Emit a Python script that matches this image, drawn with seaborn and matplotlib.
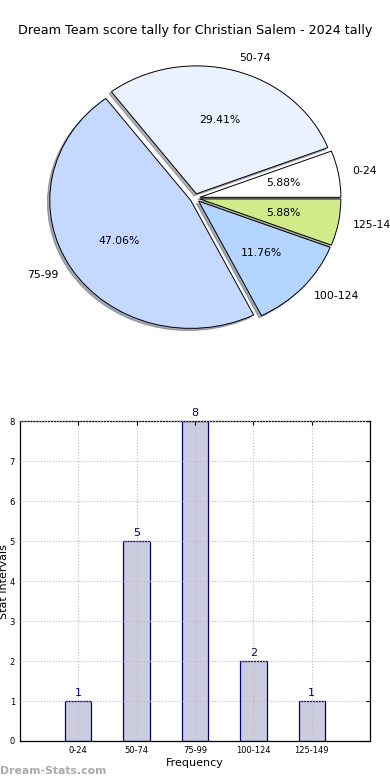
import matplotlib
matplotlib.use("Agg")
import matplotlib.pyplot as plt
import seaborn as sns
import pandas as pd

# score tally data
intervals = ["0-24", "50-74", "75-99", "100-124", "125-149"]
counts = [1, 5, 8, 2, 1]
pie_colors = ["#ffffff", "#eaf2ff", "#c5d8ff", "#b3d5ff", "#cfeb8a"]
title = "Dream Team score tally for Christian Salem - 2024 tally"

sns.set_style("white")
plt.rcParams["font.family"] = ["DejaVu Sans"]
plt.rcParams["text.color"] = "black"

fig = plt.figure(figsize=(3.9, 7.8), dpi=100)
fig.text(0.5, 0.961, title, ha="center", va="center", fontsize=9.2)

# pie on top
ax_pie = fig.add_axes([0.048, 0.541, 0.904, 0.41])
wedges, texts, autotexts = ax_pie.pie(
    counts,
    labels=intervals,
    colors=pie_colors,
    explode=[0.035] * len(counts),
    autopct="%.2f%%",
    pctdistance=0.6,
    labeldistance=1.1,
    shadow={"ox": -0.012, "oy": -0.012, "shade": 0.6},
    startangle=0,
    wedgeprops={"edgecolor": "black", "linewidth": 0.7},
    textprops={"fontsize": 7.8, "color": "black"},
)
for t in texts:
    x, _ = t.get_position()
    t.set_ha("left" if x > 0 else "right")
ax_pie.set_aspect("auto")
ax_pie.set_xlim(-1.25, 1.25)
ax_pie.set_ylim(-1.25, 1.25)

# bar chart below
ax_bar = fig.add_axes([0.051, 0.05, 0.898, 0.41])
df = pd.DataFrame({"interval": intervals, "count": counts})
sns.barplot(
    data=df,
    x="interval",
    y="count",
    color="#ccccdf",
    edgecolor="#000080",
    linewidth=0.9,
    width=0.45,
    saturation=1,
    ax=ax_bar,
)
ax_bar.set_xlim(-1, 5)
ax_bar.set_ylim(0, 8)
ax_bar.set_yticks(range(0, 9))
ax_bar.grid(True, linestyle=":", color="#bbbbbb", linewidth=0.8)
ax_bar.set_axisbelow(False)
for spine in ax_bar.spines.values():
    spine.set_color("black")
    spine.set_linewidth(0.9)
ax_bar.tick_params(direction="in", labelsize=6, length=3, top=True, right=True,
                   colors="black")
ax_bar.set_xlabel("Frequency", fontsize=8, labelpad=2, color="black")
ax_bar.set_ylabel("Stat Intervals", fontsize=8, color="black")
ax_bar.yaxis.set_label_coords(-0.03, 0.5)

for i, c in enumerate(counts):
    ax_bar.text(i, c + 0.08, str(c), ha="center", va="bottom",
                fontsize=8, color="#000080")

fig.text(0.0, 0.012, "Dream-Stats.com", fontsize=7.8, fontweight="bold",
         color="#aaaaaa", ha="left", va="center")

fig.savefig("out.png", dpi=100)
